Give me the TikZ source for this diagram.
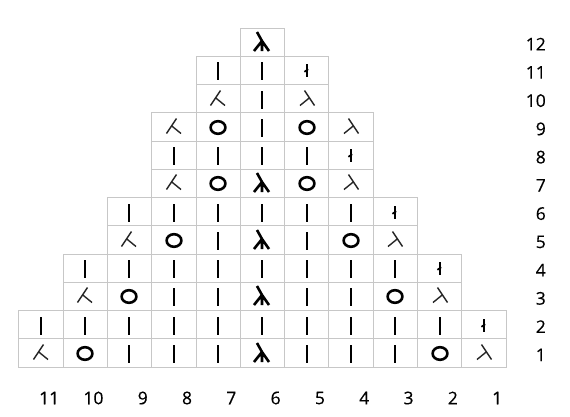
\documentclass[tikz,border=0pt]{standalone}
\usepackage{fontspec}
\setmainfont{Open Sans}
\begin{document}
\begin{tikzpicture}[x=1pt,y=-1pt,
  gridline/.style={draw=black!22,line width=0.7pt},
  symbold/.style={draw=black,line width=2.6pt},
  symthin/.style={draw=black!85,line width=1.4pt},
  lbl/.style={font=\fontsize{17.5}{17.5}\selectfont\addfontfeature{FakeBold=0.35},inner sep=0pt,anchor=east},
  symB/.pic={\draw[symbold] (0,-8) -- (0,9.5);},
  symO/.pic={\draw[symbold] (0,0.5) ellipse[x radius=7.4,y radius=6.3];},
  symT/.pic={\draw[symbold] (0,-6) -- (0,6.5); \draw[black,line width=1.7pt] (-2.6,1.8) -- (1.2,-0.8);},
  symR/.pic={\draw[symthin] (-2.5,-8.5) -- (7.5,6.5) (2.2,-1) -- (-7,6.5);},
  symL/.pic={\draw[symthin] (2.5,-8.5) -- (-7.5,6.5) (-2.2,-1) -- (7,6.5);},
  symC/.pic={\draw[symbold,line join=round] (-5,-10) -- (0,-1) -- (7,9) (0,-1) -- (-8,9) (0,-1) -- (0,9);}
]
\useasboundingbox (0,0) rectangle (570,416);
\def\cw{44.3}\def\rh{28.25}
\foreach \r/\cmax/\syms in {
  1/11/{L,O,B,B,B,C,B,B,B,O,R},
  2/11/{B,B,B,B,B,B,B,B,B,B,T},
  3/10/{L,O,B,B,C,B,B,O,R},
  4/10/{B,B,B,B,B,B,B,B,T},
  5/9/{L,O,B,C,B,O,R},
  6/9/{B,B,B,B,B,B,T},
  7/8/{L,O,C,O,R},
  8/8/{B,B,B,B,T},
  9/8/{L,O,B,O,R},
  10/7/{L,B,R},
  11/7/{B,B,T},
  12/6/{C}}{
  \foreach \s [count=\i] in \syms {
    \pgfmathsetmacro{\cx}{506-\cw*(\cmax-\i+1)+\cw/2}
    \pgfmathsetmacro{\cy}{367-\rh*(\r-0.5)}
    \pgfmathsetmacro{\sx}{round(\cx)}
    \pgfmathsetmacro{\sy}{round(\cy)}
    \draw[gridline] (\cx-\cw/2,\cy-\rh/2) rectangle (\cx+\cw/2,\cy+\rh/2);
    \pic at (\sx,\sy) {sym\s};
  }
}
\foreach \r in {1,...,12}{
  \pgfmathsetmacro{\cy}{367-\rh*(\r-0.5)+2}
  \node[lbl] (row\r) at (546,\cy) {\r};
}
\foreach \c in {1,...,11}{
  \pgfmathsetmacro{\cx}{506-\cw*\c+\cw/2+18.5}
  \node[lbl] (col\c) at (\cx,398) {\c};
}
\end{tikzpicture}
\end{document}
